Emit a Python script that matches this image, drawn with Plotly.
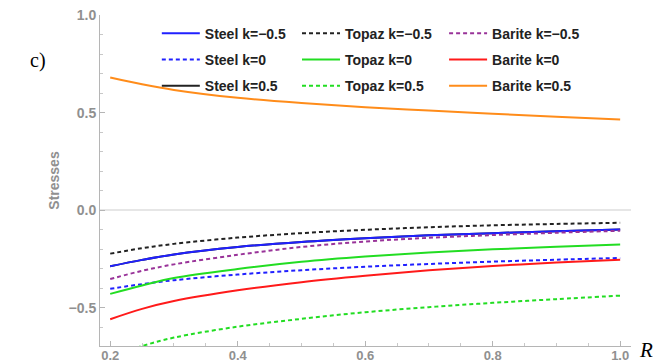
import plotly.graph_objects as go

R = [0.2, 0.25, 0.3, 0.4, 0.5, 0.6, 0.7, 0.8, 0.9, 1.0]

steel_m05 = [-0.287, -0.254, -0.226, -0.188, -0.162, -0.143, -0.128, -0.117, -0.107, -0.098]
steel_0 = [-0.402, -0.378, -0.358, -0.329, -0.307, -0.289, -0.275, -0.263, -0.253, -0.244]
steel_05 = [-0.287, -0.254, -0.226, -0.188, -0.162, -0.143, -0.128, -0.117, -0.107, -0.098]
topaz_m05 = [-0.222, -0.194, -0.172, -0.140, -0.117, -0.100, -0.087, -0.077, -0.070, -0.064]
topaz_0 = [-0.428, -0.385, -0.347, -0.301, -0.264, -0.237, -0.216, -0.200, -0.187, -0.175]
topaz_05 = [-0.750, -0.695, -0.652, -0.596, -0.556, -0.522, -0.496, -0.474, -0.455, -0.437]
barite_m05 = [-0.352, -0.310, -0.277, -0.228, -0.188, -0.160, -0.141, -0.127, -0.115, -0.105]
barite_0 = [-0.558, -0.505, -0.465, -0.410, -0.368, -0.335, -0.307, -0.285, -0.268, -0.253]
barite_05 = [0.680, 0.645, 0.616, 0.576, 0.549, 0.528, 0.511, 0.494, 0.479, 0.465]

x_ticks = [0.2, 0.4, 0.6, 0.8, 1.0]
y_ticks = [-0.5, 0.0, 0.5, 1.0]

DASH = "4px,3px"
series = [
    ("Steel k=−0.5", steel_m05, "#2020ff", "solid", "legend"),
    ("Steel k=0", steel_0, "#2020ff", DASH, "legend"),
    ("Steel k=0.5", steel_05, "#222222", "solid", "legend"),
    ("Topaz k=−0.5", topaz_m05, "#222222", DASH, "legend2"),
    ("Topaz k=0", topaz_0, "#22dd22", "solid", "legend2"),
    ("Topaz k=0.5", topaz_05, "#22dd22", DASH, "legend2"),
    ("Barite k=−0.5", barite_m05, "#993399", DASH, "legend3"),
    ("Barite k=0", barite_0, "#ff1a1a", "solid", "legend3"),
    ("Barite k=0.5", barite_05, "#ff8c1a", "solid", "legend3"),
]

fig = go.Figure()
# draw Steel k=0.5 first so Steel k=-0.5 lies on top of it
order = [2, 0, 1, 3, 4, 5, 6, 7, 8]
for i in order:
    name, ys, col, dash, lg = series[i]
    fig.add_trace(go.Scatter(
        x=R, y=ys, mode="lines", name=name, legend=lg, legendrank=i,
        legendgroup=name,
        line=dict(color=col, width=2, dash=dash, shape="spline"),
    ))

legend_font = dict(family="Arial, Liberation Sans, sans-serif", size=14, color="#222222", weight="bold")
common = dict(font=legend_font, bgcolor="rgba(0,0,0,0)", yanchor="top",
              y=0.992, xanchor="left", tracegroupgap=5, orientation="v", itemwidth=38)
fig.update_layout(
    legend=dict(x=0.107, **common),
    legend2=dict(x=0.371, **common),
    legend3=dict(x=0.648, **common),
)

tick_font = dict(family="Arial, Liberation Sans, sans-serif", size=14, color="#909090", weight="bold")
xtick_font = dict(family="Arial, Liberation Sans, sans-serif", size=13, color="#909090", weight="bold")
fig.update_layout(
    width=662, height=363,
    margin=dict(l=100, r=31, t=15, b=17),
    plot_bgcolor="white", paper_bgcolor="white",
    showlegend=True,
    xaxis=dict(range=[0.184, 1.017], tickvals=x_ticks, ticktext=[f"{v:.1f}" for v in x_ticks],
               automargin=False, ticklabelstandoff=-3,
               showgrid=False, zeroline=False, showline=True, linecolor="#b5b5b5", linewidth=1,
               ticks="inside", ticklen=5, tickcolor="#b5b5b5", tickfont=xtick_font,
               minor=dict(dtick=0.05, ticks="inside", ticklen=3, tickcolor="#c8c8c8", showgrid=False)),
    yaxis=dict(range=[-0.695, 1.0], tickvals=y_ticks,
               ticktext=["−0.5", "0.0", "0.5", "1.0"], automargin=False,
               showgrid=False, zeroline=True, zerolinecolor="#e6e6e6", zerolinewidth=1.5,
               showline=True, linecolor="#b5b5b5", linewidth=1,
               ticks="inside", ticklen=5, tickcolor="#b5b5b5", tickfont=tick_font,
               minor=dict(dtick=0.1, ticks="inside", ticklen=3, tickcolor="#c8c8c8", showgrid=False),
               title=dict(text="Stresses", font=dict(family="Arial, Liberation Sans, sans-serif", size=14, color="#909090", weight="bold"), standoff=5)),
)

fig.add_annotation(text="<i>R</i>", xref="paper", yref="paper", x=1.028, y=-0.012, xanchor="center", yanchor="middle",
                   showarrow=False, font=dict(family="Liberation Serif, Times New Roman, serif", size=21, color="black"))
fig.add_annotation(text="c)", xref="paper", yref="paper", x=(38 - 100) / 531, y=1 - (61 - 15) / 331,
                   xanchor="center", yanchor="middle", showarrow=False,
                   font=dict(family="Liberation Serif, Times New Roman, serif", size=20, color="black"))

fig.write_html("out.html")
